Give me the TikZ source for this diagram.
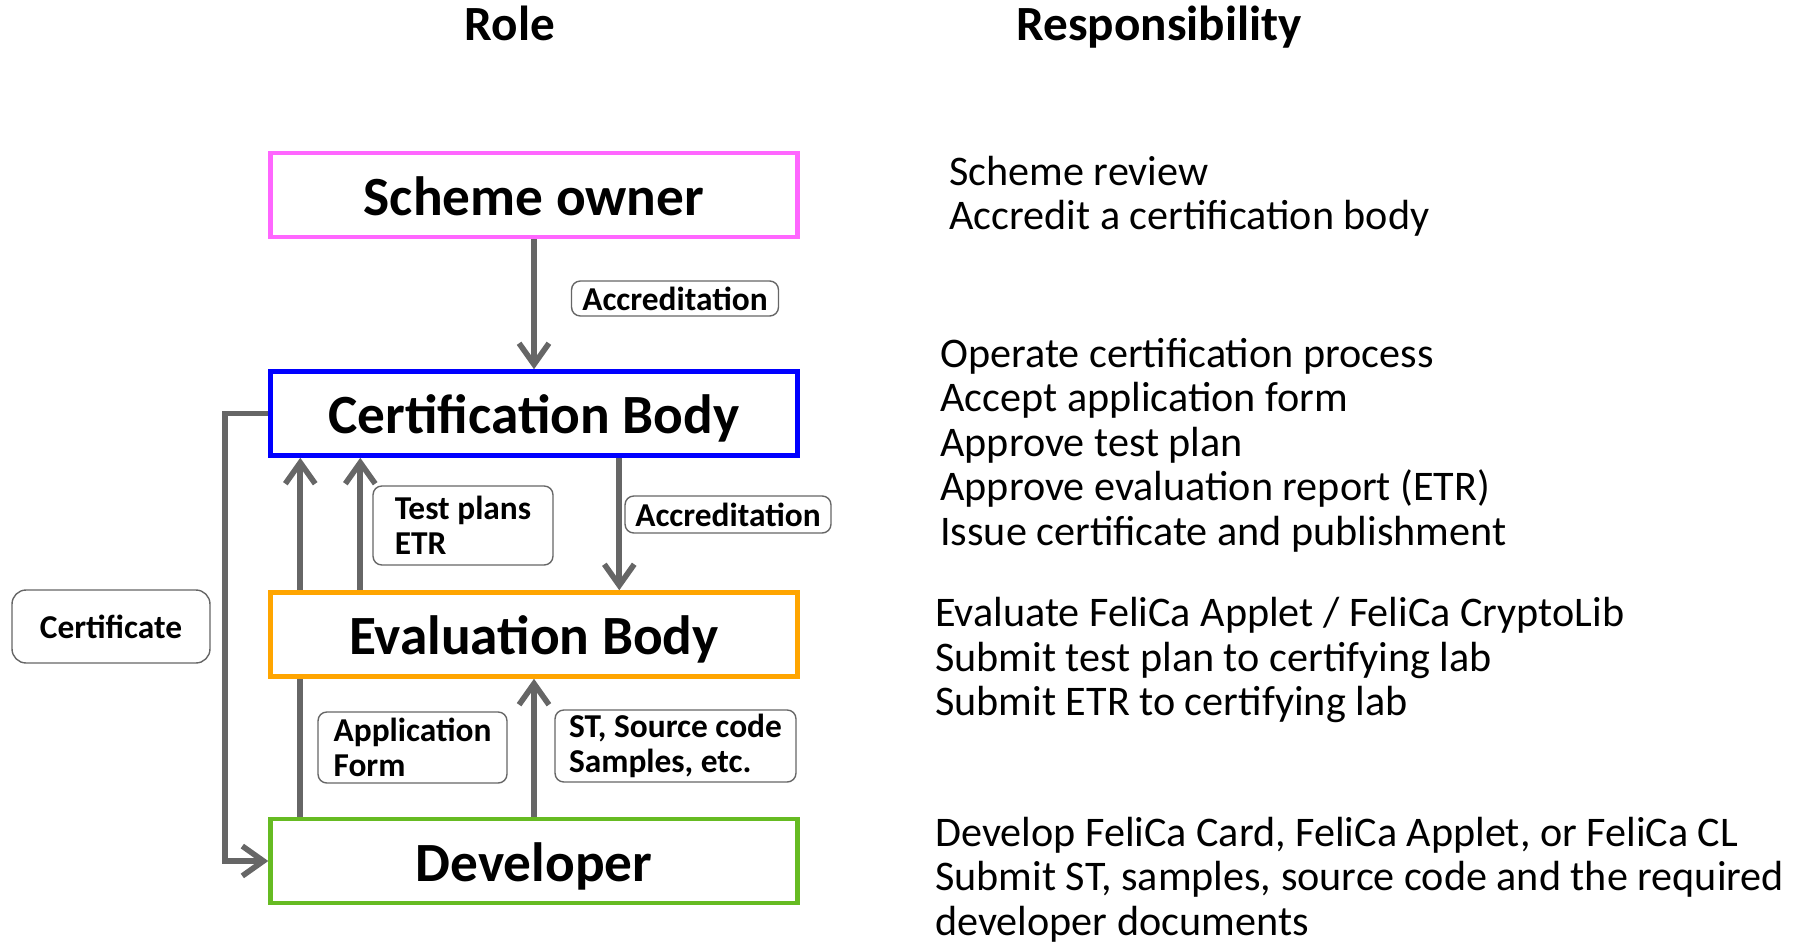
\documentclass[tikz,border=0pt]{standalone}
\usepackage{fontspec}
\setmainfont{Carlito}
\usepackage{tikz}
\usetikzlibrary{arrows.meta,calc,backgrounds}

\definecolor{rosa}{HTML}{FF66FF}
\definecolor{azul}{HTML}{0000FF}
\definecolor{naranja}{HTML}{FFA500}
\definecolor{verde}{HTML}{66BB22}
\definecolor{gris}{HTML}{666666}

\tikzset{
  caja/.style={draw, line width=2.6pt, fill=white, inner sep=0pt,
    minimum width=10.54cm, minimum height=1.68cm,
    text height=23.3pt, text depth=0pt,
    font=\bfseries\fontsize{31.5}{34}\selectfont},
  etiqueta/.style={draw=gris, line width=0.8pt, rounded corners=5pt, fill=white,
    inner sep=0pt, align=left, font=\bfseries\fontsize{19}{20}\selectfont},
  titulo/.style={anchor=base, font=\bfseries\fontsize{28}{30}\selectfont},
  tarea/.style={anchor=base west, align=left, inner sep=0pt,
    font=\fontsize{24}{25.3}\selectfont},
  flecha/.style={draw=gris, line width=3.2pt, -{Straight Barb[length=12pt,width=17pt]}}
}

\begin{document}
\begin{tikzpicture}[x=0.02cm, y=-0.02cm]
\useasboundingbox (0,0) rectangle (1804,942);

%titulos de las columnas
\node[titulo] (rol) at (510,41) {Role};
\node[titulo] (resp) at (1159,41) {Responsibility};

%cajas de los roles
\node[caja, draw=rosa] (scheme) at (534,195) {Scheme owner};
\node[caja, draw=azul] (cert) at (534,413.5) {Certification Body};
\node[caja, draw=naranja] (eval) at (534,634.5) {Evaluation Body};
\node[caja, draw=verde] (dev) at (534,861) {Developer};

%etiquetas de las flechas
\node[etiqueta, minimum width=4.14cm, minimum height=0.70cm] (acc1) at (675,298.5) {Accreditation};
\node[etiqueta, minimum width=4.12cm, minimum height=0.74cm] (acc2) at (728,514.5) {Accreditation};
\node[etiqueta, minimum width=3.60cm, minimum height=1.58cm] (plans) at (463,525.5) {Test plans\\ETR};
\node[etiqueta, minimum width=3.78cm, minimum height=1.42cm] (form) at (412.5,747.5) {Application\\Form};
\node[etiqueta, minimum width=4.82cm, minimum height=1.44cm] (code) at (675.5,746) {ST, Source code\\Samples, etc.};
\node[etiqueta, minimum width=3.96cm, minimum height=1.46cm, rounded corners=8pt] (certif) at (111,626.5) {Certificate};

%flechas entre los roles
\begin{scope}[on background layer]
\draw[flecha] (scheme.south) -- (cert.north);
\draw[flecha] ($(cert.south west)+(351,0)$) -- ($(eval.north west)+(351,0)$);
\draw[flecha] ($(eval.north west)+(92,0)$) -- ($(cert.south west)+(92,0)$);
\draw[flecha] ($(dev.north west)+(32,0)$) -- ($(cert.south west)+(32,0)$);
\draw[flecha] (dev.north) -- (eval.south);
\draw[flecha] (cert.west) -- ++(-43,0) |- (dev.west);
\end{scope}

%responsabilidades de cada rol (la base es la ultima linea)
\node[tarea] (t1) at (949,230) {Scheme review\\Accredit a certification body};
\node[tarea] (t2) at (940,545) {Operate certification process\\Accept application form\\Approve test plan\\Approve evaluation report (ETR)\\Issue certificate and publishment};
\node[tarea] (t3) at (935,715.5) {Evaluate FeliCa Applet / FeliCa CryptoLib\\Submit test plan to certifying lab\\Submit ETR to certifying lab};
\node[tarea] (t4) at (935,935) {Develop FeliCa Card, FeliCa Applet, or FeliCa CL\\Submit ST, samples, source code and the required\\developer documents};
\end{tikzpicture}
\end{document}
